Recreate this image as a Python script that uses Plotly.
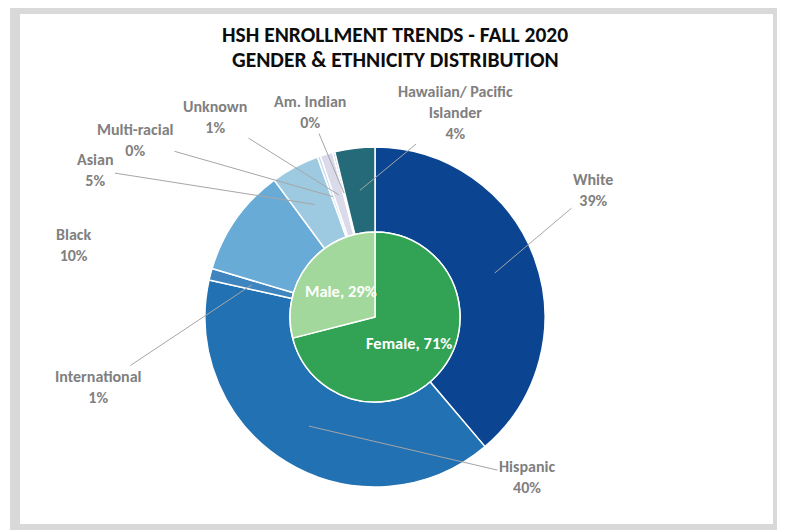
import math
import plotly.graph_objects as go

# ---------------- data ----------------
ethnicity = ["White", "Hispanic", "International", "Black", "Asian",
             "Multi-racial", "Unknown", "Am. Indian", "Hawaiian/ Pacific<br>Islander"]
ethnicity_pct = [38.8, 39.7, 1.1, 10.3, 4.6, 0.3, 1.2, 0.2, 3.8]
gender = ["Female", "Male"]
gender_pct = [71, 29]
title_lines = ["HSH ENROLLMENT TRENDS - FALL 2020", "GENDER & ETHNICITY DISTRIBUTION"]

# ---------------- styling / layout ----------------
PAGE_MARGIN = 8                      # default body margin of the html page
W, H = 785 - PAGE_MARGIN, 530 - PAGE_MARGIN
ethnicity_colors = ["#0b4592", "#2271b3", "#3f86c0", "#68abd6", "#9ecae1",
                    "#c6dbef", "#dadaeb", "#bcbddc", "#246a78"]
gender_colors = ["#32a354", "#a2d89b"]
CX, CY, R = 375, 317, 170            # pie centre / outer radius (window pixels)
HOLE = 0.5
# label centres (window pixels) for each ethnicity label
label_xy = [(593, 190), (527, 477), (98, 387), (73, 245), (95, 170),
            (135, 140), (215, 117), (310, 112), (455, 112)]
leader = [True, True, True, False, True, True, True, True, True]
FONT = "Carlito, Lato, 'Open Sans', sans-serif"
LABEL_GRAY = "#7f7f7f"
LABEL_SIZE = 16
TITLE_SIZE = 21.5


def fx(px):
    return (px - PAGE_MARGIN) / W


def fy(py):
    return 1 - (py - PAGE_MARGIN) / H


fig = go.Figure()

# outer ring: ethnicity
fig.add_trace(go.Pie(
    labels=ethnicity, values=ethnicity_pct, hole=HOLE, sort=False,
    direction="clockwise", rotation=0, textinfo="none",
    marker=dict(colors=ethnicity_colors, line=dict(color="white", width=1.5)),
    domain=dict(x=[fx(CX - R), fx(CX + R)], y=[fy(CY + R), fy(CY - R)]),
    showlegend=False, hoverinfo="label+percent",
))

# inner pie: gender
r_in = R * HOLE
fig.add_trace(go.Pie(
    labels=gender, values=gender_pct, sort=False,
    direction="clockwise", rotation=0, textinfo="none",
    marker=dict(colors=gender_colors, line=dict(color="white", width=1.5)),
    domain=dict(x=[fx(CX - r_in), fx(CX + r_in)], y=[fy(CY + r_in), fy(CY - r_in)]),
    showlegend=False, hoverinfo="label+percent",
))

annotations = []

# gender labels at slice mid-angle, half radius
g_total = sum(gender_pct)
cum = 0.0
for name, v in zip(gender, gender_pct):
    mid = (cum + v / 2) / g_total * 2 * math.pi
    cum += v
    tx = CX + 0.5 * r_in * math.sin(mid)
    ty = CY - 0.5 * r_in * math.cos(mid)
    annotations.append(dict(
        x=fx(tx), y=fy(ty), xref="paper", yref="paper", showarrow=False,
        xanchor="center", yanchor="middle",
        text=f"<b>{name}, {round(v / g_total * 100)}%</b>",
        font=dict(family=FONT, size=16.5, color="white"),
    ))

# ethnicity labels with leader lines pointing to slice middle
total = sum(ethnicity_pct)
cum = 0.0
r_mid = R * (1 + HOLE) / 2
for name, v, (lx, ly), has_line in zip(ethnicity, ethnicity_pct, label_xy, leader):
    mid = (cum + v / 2) / total * 2 * math.pi
    cum += v
    hx = CX + r_mid * math.sin(mid)
    hy = CY - r_mid * math.cos(mid)
    text = f"<b>{name}<br>{round(v / total * 100)}%</b>"
    if has_line:
        annotations.append(dict(
            x=fx(hx), y=fy(hy), xref="paper", yref="paper",
            ax=lx - hx, ay=ly - hy, showarrow=True, arrowhead=0,
            arrowwidth=1, arrowcolor="#a6a6a6", text=text,
            font=dict(family=FONT, size=LABEL_SIZE, color=LABEL_GRAY), align="center",
        ))
    else:
        annotations.append(dict(
            x=fx(lx), y=fy(ly), xref="paper", yref="paper", showarrow=False,
            xanchor="center", yanchor="middle",
            text=text, font=dict(family=FONT, size=LABEL_SIZE, color=LABEL_GRAY),
            align="center",
        ))

# title lines
for txt, ty in zip(title_lines, [35, 60]):
    annotations.append(dict(
        x=fx(395), y=fy(ty), xref="paper", yref="paper", showarrow=False,
        xanchor="center", yanchor="middle",
        text=f"<b>{txt}</b>", font=dict(family=FONT, size=TITLE_SIZE, color="#0d0d0d"),
    ))

fig.update_layout(
    width=W, height=H, margin=dict(l=0, r=0, t=0, b=0),
    paper_bgcolor="white", plot_bgcolor="white",
    annotations=annotations,
    shapes=[dict(type="rect", xref="paper", yref="paper",
                 x0=fx(15), x1=fx(778), y0=fy(529), y1=fy(9),
                 line=dict(color="#d9d9d9", width=10), fillcolor="white",
                 layer="below")],
)

fig.write_html("out.html")
